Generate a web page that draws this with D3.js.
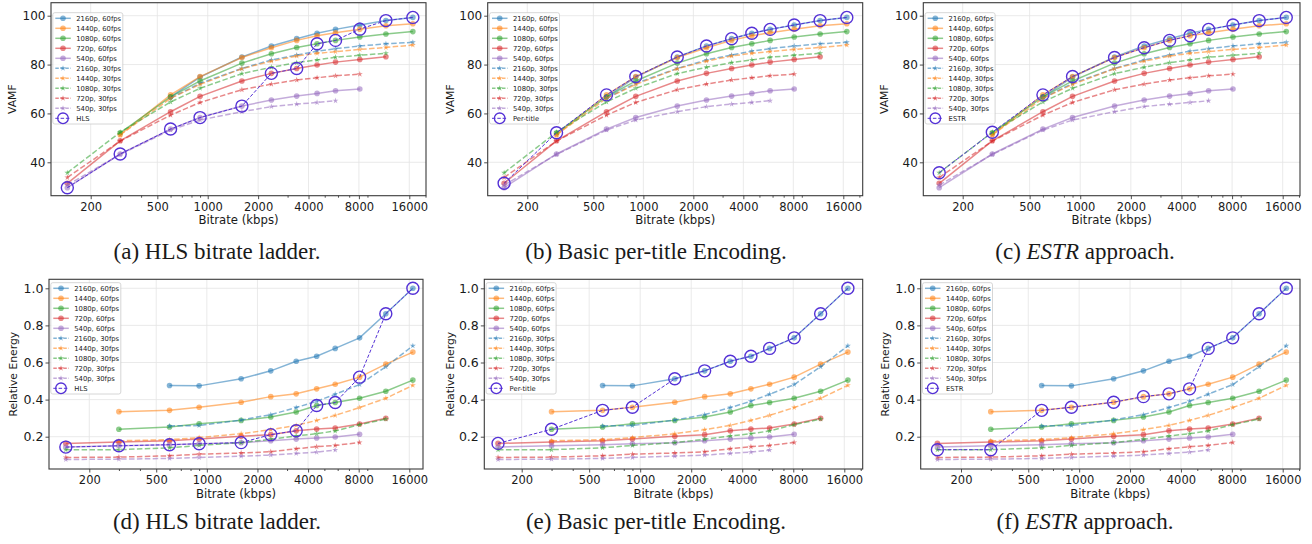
<!DOCTYPE html>
<html>
<head>
<meta charset="utf-8">
<script src="https://cdnjs.cloudflare.com/ajax/libs/d3/7.8.5/d3.min.js"></script>
<style>
  body { margin: 0; background: #fff; }
  svg { display: block; }
  text { font-family: "DejaVu Sans", sans-serif; fill: #1a1a1a; }
</style>
</head>
<body>
<svg id="fig" width="1312" height="544"></svg>
<script>
// Bitrate ladder rungs (kbps)
const bitrates = [145, 300, 600, 900, 1600, 2400, 3400, 4500, 5800, 8100, 11600, 16800];

const seriesNames = ["2160p, 60fps", "1440p, 60fps", "1080p, 60fps", "720p, 60fps", "540p, 60fps",
                     "2160p, 30fps", "1440p, 30fps", "1080p, 30fps", "720p, 30fps", "540p, 30fps"];

// VAMF per representation (null = not encoded at that bitrate)
const vamf2160p60 = [null, null, 66.8, 74.9, 83.1, 87.6, 90.6, 92.8, 94.4, 96.2, 98.0, 99.3];
const vamf1440p60 = [null, 51.3, 67.6, 75.1, 82.9, 86.9, 89.9, 91.8, 93.0, 94.5, 95.9, 96.7];
const vamf1080p60 = [null, 52.1, 66.8, 73.3, 80.6, 84.4, 87.0, 88.5, 89.9, 91.3, 92.5, 93.5];
const vamf720p60  = [31.4, 48.8, 60.7, 67.0, 73.3, 76.4, 78.4, 79.8, 81.0, 82.1, 83.2, null];
const vamf540p60  = [29.6, 43.4, 53.6, 58.3, 63.0, 65.5, 67.1, 68.2, 69.3, 70.0, null, null];
const vamf2160p30 = [null, null, 66.3, 72.3, 78.4, 81.9, 83.9, 85.5, 86.5, 87.6, 88.5, 89.1];
const vamf1440p30 = [null, 51.2, 66.2, 71.9, 78.3, 81.4, 83.5, 84.6, 85.3, 86.2, 87.0, 88.0];
const vamf1080p30 = [35.7, 52.3, 64.7, 70.3, 76.3, 78.9, 80.8, 81.9, 83.0, 83.8, 84.6, null];
const vamf720p30  = [33.8, 48.7, 59.3, 64.5, 69.7, 72.0, 73.7, 74.6, 75.4, 76.1, null, null];
const vamf540p30  = [30.7, 43.2, 53.2, 57.3, 60.7, 62.8, 63.8, 64.5, 65.2, null, null, null];

// Relative energy per representation
const energy2160p60 = [null, null, 0.476, 0.474, 0.512, 0.555, 0.607, 0.634, 0.676, 0.733, 0.863, 1.0];
const energy1440p60 = [null, 0.335, 0.342, 0.359, 0.386, 0.416, 0.431, 0.458, 0.483, 0.521, 0.591, 0.656];
const energy1080p60 = [null, 0.240, 0.252, 0.270, 0.288, 0.306, 0.333, 0.368, 0.384, 0.407, 0.445, 0.505];
const energy720p60  = [0.164, 0.171, 0.178, 0.187, 0.202, 0.211, 0.232, 0.241, 0.247, 0.268, 0.299, null];
const energy540p60  = [0.144, 0.151, 0.157, 0.162, 0.168, 0.178, 0.187, 0.193, 0.198, 0.213, null, null];
const energy2160p30 = [null, null, 0.258, 0.260, 0.290, 0.319, 0.357, 0.391, 0.429, 0.481, 0.577, 0.690];
const energy1440p30 = [null, 0.178, 0.184, 0.195, 0.216, 0.238, 0.261, 0.288, 0.315, 0.357, 0.407, 0.477];
const energy1080p30 = [0.130, 0.130, 0.140, 0.153, 0.168, 0.186, 0.204, 0.216, 0.231, 0.265, 0.295, null];
const energy720p30  = [0.088, 0.090, 0.097, 0.106, 0.112, 0.119, 0.135, 0.146, 0.153, 0.169, null, null];
const energy540p30  = [0.077, 0.079, 0.083, 0.088, 0.095, 0.101, 0.110, 0.117, 0.128, null, null, null];

// Representation chosen at each rung by each approach
const hlsLadder = ["540p, 60fps", "540p, 60fps", "540p, 60fps", "540p, 60fps", "540p, 60fps", "720p, 60fps",
                   "720p, 60fps", "1080p, 60fps", "1080p, 60fps", "1440p, 60fps", "2160p, 60fps", "2160p, 60fps"];
const perTitleLadder = ["720p, 60fps", "1080p, 60fps", "1440p, 60fps", "1440p, 60fps", "2160p, 60fps", "2160p, 60fps",
                        "2160p, 60fps", "2160p, 60fps", "2160p, 60fps", "2160p, 60fps", "2160p, 60fps", "2160p, 60fps"];
const estrLadder = ["1080p, 30fps", "1080p, 30fps", "1440p, 60fps", "1440p, 60fps", "1440p, 60fps", "1440p, 60fps",
                    "1440p, 60fps", "1440p, 60fps", "2160p, 60fps", "2160p, 60fps", "2160p, 60fps", "2160p, 60fps"];

const xTicks = [200, 500, 1000, 2000, 4000, 8000, 16000];
const vamfTicks = [40, 60, 80, 100];
const energyTicks = [0.2, 0.4, 0.6, 0.8, 1.0];

const vamfValues = [vamf2160p60, vamf1440p60, vamf1080p60, vamf720p60, vamf540p60,
                    vamf2160p30, vamf1440p30, vamf1080p30, vamf720p30, vamf540p30];
const energyValues = [energy2160p60, energy1440p60, energy1080p60, energy720p60, energy540p60,
                      energy2160p30, energy1440p30, energy1080p30, energy720p30, energy540p30];

const tab = ["#1f77b4", "#ff7f0e", "#2ca02c", "#d62728", "#9467bd"];
const ladderColor = "#5431d6";
const alpha = 0.55;

// layout of the six panels (box: left, right, top, bottom)
const panels = [
  { metric: "vamf", ladder: hlsLadder, ladderName: "HLS", box: [51, 426, 2.7, 195.7], x0: 90.7, x1: 409.3, legTop: 10, yl: 12 },
  { metric: "vamf", ladder: perTitleLadder, ladderName: "Per-title", box: [487.7, 862.7, 2.7, 195.7], x0: 527.3, x1: 843.3, legTop: 10, yl: 450 },
  { metric: "vamf", ladder: estrLadder, ladderName: "ESTR", box: [923.3, 1300, 2.7, 195.7], x0: 962.7, x1: 1282.7, legTop: 10, yl: 884 },
  { metric: "energy", ladder: hlsLadder, ladderName: "HLS", box: [49, 423, 279.3, 469], x0: 89.3, x1: 409.3, legTop: 3.4, yl: 13 },
  { metric: "energy", ladder: perTitleLadder, ladderName: "Per-title", box: [484.3, 862.7, 279.3, 469], x0: 521.7, x1: 844.3, legTop: 3.4, yl: 450 },
  { metric: "energy", ladder: estrLadder, ladderName: "ESTR", box: [920.7, 1300, 279.3, 469], x0: 961, x1: 1282.7, legTop: 3.4, yl: 885 }
];

const svg = d3.select("#fig");
const star = d3.symbol().type(d3.symbolStar).size(11);

panels.forEach(p => {
  const [left, right, top, bottom] = p.box;
  const isV = p.metric === "vamf";
  const values = isV ? vamfValues : energyValues;
  const yTicks = isV ? vamfTicks : energyTicks;

  const x = d3.scaleLog().domain([200, 16000]).range([p.x0, p.x1]);
  const y = isV
    ? d3.scaleLinear().domain([40, 100]).range([top + 13, top + 159.6])
    : d3.scaleLinear().domain([0.2, 1.0]).range([top + 157.4, top + 9]);
  if (isV) y.range([top + 159.6, top + 13]);

  const g = svg.append("g");

  // grid
  g.append("g").selectAll("line").data(xTicks).join("line")
    .attr("x1", d => x(d)).attr("x2", d => x(d)).attr("y1", top).attr("y2", bottom)
    .attr("stroke", "#e4e4e4").attr("stroke-width", 0.8);
  g.append("g").selectAll("line").data(yTicks).join("line")
    .attr("x1", left).attr("x2", right).attr("y1", d => y(d)).attr("y2", d => y(d))
    .attr("stroke", "#e4e4e4").attr("stroke-width", 0.8);

  // series
  const line = d3.line().defined(d => d.v != null).x(d => x(d.b)).y(d => y(d.v));
  seriesNames.forEach((name, si) => {
    const pts = bitrates.map((b, i) => ({ b, v: values[si][i] }));
    const color = tab[si % 5];
    const is30 = si >= 5;
    g.append("path").datum(pts)
      .attr("d", line).attr("fill", "none")
      .attr("stroke", color).attr("stroke-opacity", alpha).attr("stroke-width", 1.5)
      .attr("stroke-dasharray", is30 ? "5.5,2.4" : null);
    const valid = pts.filter(d => d.v != null);
    if (is30) {
      g.append("g").selectAll("path").data(valid).join("path")
        .attr("d", star).attr("transform", d => `translate(${x(d.b)},${y(d.v)})`)
        .attr("fill", color).attr("fill-opacity", alpha);
    } else {
      g.append("g").selectAll("circle").data(valid).join("circle")
        .attr("cx", d => x(d.b)).attr("cy", d => y(d.v)).attr("r", 2.8)
        .attr("fill", color).attr("fill-opacity", alpha);
    }
  });

  // ladder
  const lad = bitrates.map((b, i) => ({ b, v: values[seriesNames.indexOf(p.ladder[i])][i] }));
  g.append("path").datum(lad).attr("d", line).attr("fill", "none")
    .attr("stroke", ladderColor).attr("stroke-width", 1).attr("stroke-dasharray", "3.5,1.8");
  g.append("g").selectAll("circle").data(lad).join("circle")
    .attr("cx", d => x(d.b)).attr("cy", d => y(d.v)).attr("r", 6)
    .attr("fill", "none").attr("stroke", ladderColor).attr("stroke-width", 1.4);

  // frame
  g.append("rect").attr("x", left).attr("y", top).attr("width", right - left).attr("height", bottom - top)
    .attr("fill", "none").attr("stroke", "#3a3a3a").attr("stroke-width", 1.1);

  // axes
  const lo = x.invert(left), hi = x.invert(right);
  const minor = [];
  [100, 1000, 10000].forEach(dec => d3.range(2, 10).forEach(k => {
    const v = k * dec;
    if (v > lo && v < hi && !xTicks.includes(v)) minor.push(v);
  }));
  const xAxis = g.append("g").attr("transform", `translate(0,${bottom})`)
    .call(d3.axisBottom(x).tickValues(xTicks).tickFormat(d3.format("d")).tickSize(3.5).tickPadding(3.5));
  const xMinor = g.append("g").attr("transform", `translate(0,${bottom})`)
    .call(d3.axisBottom(x).tickValues(minor).tickFormat("").tickSize(2));
  const yAxis = g.append("g").attr("transform", `translate(${left},0)`)
    .call(d3.axisLeft(y).tickValues(yTicks).tickFormat(isV ? d3.format("d") : d3.format(".1f")).tickSize(3.5).tickPadding(2));
  [xAxis, xMinor, yAxis].forEach(a => {
    a.select(".domain").remove();
    a.selectAll(".tick line").attr("stroke", "#3a3a3a").attr("stroke-width", 0.9);
  });
  xAxis.selectAll("text").attr("font-size", 11.5).attr("font-family", "DejaVu Sans").attr("fill", "#1a1a1a");
  yAxis.selectAll("text").attr("font-size", isV ? 12 : 12.5).attr("font-family", "DejaVu Sans").attr("fill", "#1a1a1a");

  g.append("text").attr("x", (left + right) / 2).attr("y", bottom + 28.5)
    .attr("text-anchor", "middle").attr("font-size", 11.7).text("Bitrate (kbps)");
  g.append("text").attr("transform", `translate(${p.yl},${(top + bottom) / 2}) rotate(-90)`)
    .attr("text-anchor", "middle").attr("dy", "0.35em").attr("font-size", 10.8)
    .text(isV ? "VAMF" : "Relative Energy");

  // legend
  const leg = g.append("g").attr("transform", `translate(${left + 1.8},${top + p.legTop})`);
  leg.append("rect").attr("width", 70).attr("height", 111.3).attr("rx", 2)
    .attr("fill", "#fff").attr("fill-opacity", 0.85).attr("stroke", "#cccccc").attr("stroke-width", 0.8);
  const entries = seriesNames.map((n, i) => ({ name: n, color: tab[i % 5], kind: i >= 5 ? "30" : "60" }))
    .concat([{ name: p.ladderName, color: ladderColor, kind: "ladder" }]);
  entries.forEach((e, i) => {
    const ey = 5.6 + i * 10;
    const row = leg.append("g").attr("transform", `translate(0,${ey})`);
    if (e.kind === "ladder") {
      row.append("line").attr("x1", 2.5).attr("x2", 18).attr("stroke", e.color).attr("stroke-width", 1)
        .attr("stroke-dasharray", "3.5,1.8");
      row.append("circle").attr("cx", 10.2).attr("r", 5.3).attr("fill", "none")
        .attr("stroke", e.color).attr("stroke-width", 1.3);
    } else {
      row.append("line").attr("x1", 2.5).attr("x2", 18).attr("stroke", e.color).attr("stroke-opacity", alpha)
        .attr("stroke-width", 1.5).attr("stroke-dasharray", e.kind === "30" ? "3.5,1.5" : null);
      if (e.kind === "30") {
        row.append("path").attr("d", star).attr("transform", "translate(10.2,0)")
          .attr("fill", e.color).attr("fill-opacity", alpha);
      } else {
        row.append("circle").attr("cx", 10.2).attr("r", 2.8).attr("fill", e.color).attr("fill-opacity", alpha);
      }
    }
    row.append("text").attr("x", 23.5).attr("dy", "0.35em").attr("font-size", 6.8).text(e.name);
  });
});

// captions
const captions = [
  { x: 217, y: 259, parts: [["(a) HLS bitrate ladder.", false]] },
  { x: 656, y: 259, parts: [["(b) Basic per-title Encoding.", false]] },
  { x: 1085, y: 259, parts: [["(c) ", false], ["ESTR", true], [" approach.", false]] },
  { x: 217, y: 529, parts: [["(d) HLS bitrate ladder.", false]] },
  { x: 656, y: 529, parts: [["(e) Basic per-title Encoding.", false]] },
  { x: 1085, y: 529, parts: [["(f) ", false], ["ESTR", true], [" approach.", false]] }
];
captions.forEach(c => {
  const t = svg.append("text").attr("x", c.x).attr("y", c.y).attr("text-anchor", "middle")
    .attr("font-family", "Liberation Serif, serif").attr("font-size", 23).style("font-family", "Liberation Serif, serif");
  c.parts.forEach(([s, it]) => t.append("tspan").attr("font-style", it ? "italic" : null).text(s));
});
</script>
</body>
</html>
